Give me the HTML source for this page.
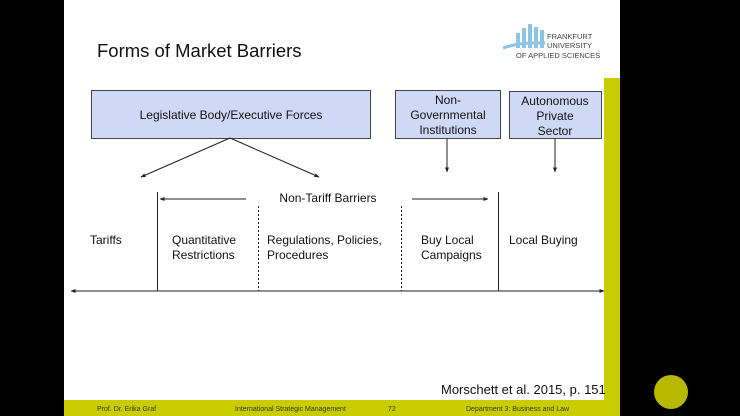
<!DOCTYPE html>
<html><head><meta charset="utf-8"><style>
html,body{margin:0;padding:0;background:#000;width:740px;height:416px;overflow:hidden}
svg{display:block}
text{font-family:"Liberation Sans",Arial,sans-serif;fill:#111}
</style></head><body>
<svg width="740" height="416" viewBox="0 0 740 416" xmlns="http://www.w3.org/2000/svg">
<defs><marker id="a" viewBox="0 0 10 10" refX="9" refY="5" markerWidth="5" markerHeight="5" orient="auto-start-reverse"><path d="M0,1 L10,5 L0,9 z" fill="#222"/></marker></defs>
<rect x="0" y="0" width="740" height="416" fill="#000"/>
<rect x="64" y="0" width="556" height="416" fill="#fff"/>
<rect x="604" y="78" width="16" height="322" fill="#c8cc00"/>
<rect x="64" y="400" width="556" height="16" fill="#c8cc00"/>
<circle cx="671" cy="392" r="17" fill="#b8b800"/>
<text x="97" y="57" font-size="18.5">Forms of Market Barriers</text>
<!-- logo -->
<g fill="#8ec3e6"><rect x="516" y="33" width="4" height="15"/><rect x="522" y="28" width="4" height="20"/><rect x="528" y="24" width="4" height="24"/><rect x="534" y="27" width="4" height="21"/><rect x="540" y="30" width="4" height="18"/></g>
<path d="M503 48 Q520 42 545 43" stroke="#8ec3e6" stroke-width="3" fill="none"/>
<text x="547" y="39" font-size="7.5" style="fill:#444">FRANKFURT</text>
<text x="547" y="48" font-size="7.5" style="fill:#444">UNIVERSITY</text>
<text x="516" y="58" font-size="7.5" style="fill:#444">OF APPLIED SCIENCES</text>
<g stroke="#444" stroke-width="1" fill="#cfd8f5">
<rect x="91.5" y="90.5" width="279" height="48"/>
<rect x="395.5" y="90.5" width="105" height="48"/>
<rect x="509.5" y="91.5" width="92" height="47"/>
</g>
<g font-size="12" text-anchor="middle">
<text x="231" y="119">Legislative Body/Executive Forces</text>
<text x="448" y="104">Non-</text><text x="448" y="119">Governmental</text><text x="448" y="134">Institutions</text>
<text x="555" y="105">Autonomous</text><text x="555" y="120">Private</text><text x="555" y="135">Sector</text>
<text x="328" y="202">Non-Tariff Barriers</text>
</g>
<g stroke="#222" stroke-width="1" fill="none">
<line x1="230" y1="138" x2="141" y2="177" marker-end="url(#a)"/>
<line x1="230" y1="138" x2="319" y2="177" marker-end="url(#a)"/>
<line x1="447" y1="139" x2="447" y2="172" marker-end="url(#a)"/>
<line x1="555" y1="139" x2="555" y2="172" marker-end="url(#a)"/>
<line x1="246" y1="199" x2="160" y2="199" marker-end="url(#a)"/>
<line x1="412" y1="199" x2="488" y2="199" marker-end="url(#a)"/>
<line x1="157.5" y1="192" x2="157.5" y2="291"/>
<line x1="498.5" y1="192" x2="498.5" y2="291"/>
<line x1="258.5" y1="206" x2="258.5" y2="291" stroke-dasharray="2,2"/>
<line x1="401.5" y1="206" x2="401.5" y2="291" stroke-dasharray="2,2"/>
<line x1="71" y1="291" x2="604" y2="291" marker-end="url(#a)" marker-start="url(#a)"/>
</g>
<g font-size="12">
<text x="90" y="244">Tariffs</text>
<text x="172" y="244">Quantitative</text><text x="172" y="259">Restrictions</text>
<text x="267" y="244">Regulations, Policies,</text><text x="267" y="259">Procedures</text>
<text x="421" y="244">Buy Local</text><text x="421" y="259">Campaigns</text>
<text x="509" y="244">Local Buying</text>
</g>
<text x="441" y="394" font-size="13">Morschett et al. 2015, p. 151</text>
<g font-size="7">
<text x="97" y="411" style="fill:#3a3a10">Prof. Dr. Erika Graf</text>
<text x="235" y="411" style="fill:#3a3a10">International Strategic Management</text>
<text x="388" y="411" style="fill:#3a3a10">72</text>
<text x="466" y="411" style="fill:#3a3a10">Department 3:  Business and Law</text>
</g>
</svg>
</body></html>
